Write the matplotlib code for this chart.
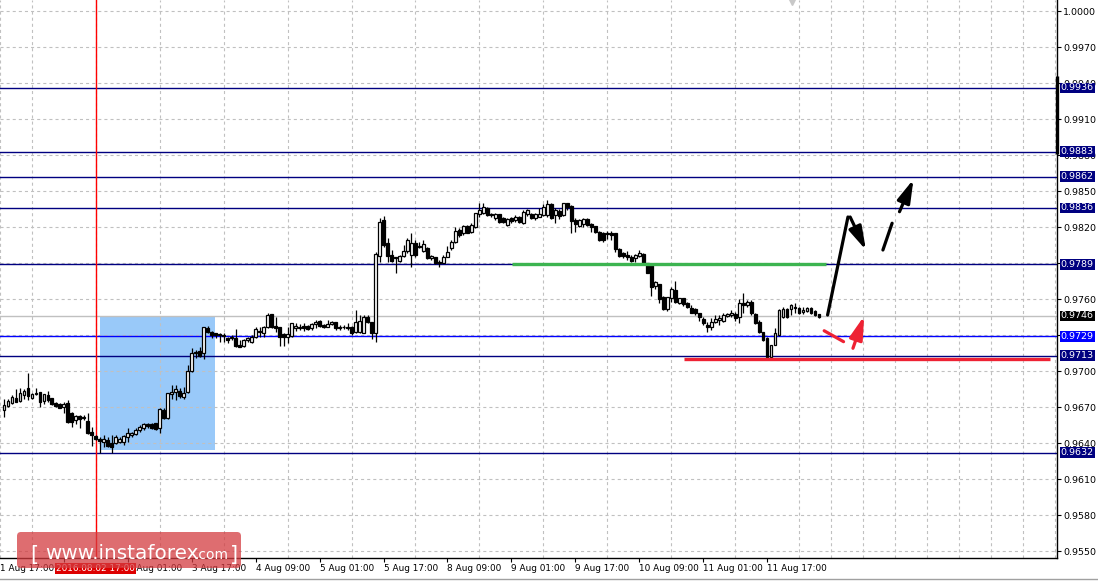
import numpy as np
import matplotlib.pyplot as plt
import matplotlib.transforms as mtransforms
from matplotlib.patches import Rectangle, FancyBboxPatch
from matplotlib.lines import Line2D

plt.rcParams['font.family'] = 'DejaVu Sans'
plt.rcParams['lines.scale_dashes'] = False

## Data: H1 candles (bar 0 = 1 Aug 18:00)
opens = [
    0.96676, 0.96710, 0.96732, 0.96774, 0.96754, 0.96801, 0.96857, 0.96779, 0.96810, 0.96824,
    0.96751, 0.96801, 0.96774, 0.96737, 0.96724, 0.96699, 0.96732, 0.96649, 0.96593, 0.96626,
    0.96607, 0.96585, 0.96496, 0.96462, 0.96432, 0.96412, 0.96426, 0.96399, 0.96399, 0.96407,
    0.96412, 0.96449, 0.96468, 0.96476, 0.96510, 0.96524, 0.96560, 0.96560, 0.96571, 0.96524,
    0.96676, 0.96607, 0.96807, 0.96824, 0.96837, 0.96787, 0.96829, 0.97001, 0.97149, 0.97168,
    0.97149, 0.97357, 0.97326, 0.97315, 0.97310, 0.97301, 0.97274, 0.97279, 0.97279, 0.97218,
    0.97210, 0.97260, 0.97246, 0.97288, 0.97335, 0.97315, 0.97371, 0.97477, 0.97377, 0.97371,
    0.97307, 0.97288, 0.97293, 0.97357, 0.97357, 0.97377, 0.97377, 0.97357, 0.97393, 0.97421,
    0.97385, 0.97371, 0.97393, 0.97410, 0.97371, 0.97365, 0.97368, 0.97371, 0.97324, 0.97329,
    0.97321, 0.97449, 0.97407, 0.97315, 0.97960, 0.98260, 0.98066, 0.97968, 0.97949, 0.97921,
    0.97960, 0.98002, 0.97968, 0.98071, 0.98043, 0.98002, 0.98024, 0.97941, 0.97954, 0.97913,
    0.97904, 0.97954, 0.98024, 0.98074, 0.98177, 0.98149, 0.98210, 0.98163, 0.98199, 0.98307,
    0.98321, 0.98357, 0.98307, 0.98274, 0.98307, 0.98274, 0.98218, 0.98274, 0.98260, 0.98282,
    0.98232, 0.98307, 0.98307, 0.98274, 0.98288, 0.98302, 0.98302, 0.98393, 0.98302, 0.98338,
    0.98302, 0.98399, 0.98377, 0.98260, 0.98213, 0.98227, 0.98266, 0.98224, 0.98210, 0.98163,
    0.98149, 0.98154, 0.98154, 0.98149, 0.98016, 0.97982, 0.97968, 0.97954, 0.97941, 0.97960,
    0.97974, 0.97904, 0.97885, 0.97710, 0.97724, 0.97621, 0.97516, 0.97607, 0.97677, 0.97571,
    0.97607, 0.97571, 0.97529, 0.97521, 0.97482, 0.97435, 0.97388, 0.97366, 0.97413, 0.97427,
    0.97421, 0.97463, 0.97468, 0.97474, 0.97454, 0.97571, 0.97552, 0.97579, 0.97477, 0.97413,
    0.97329, 0.97274, 0.97116, 0.97221, 0.97302, 0.97454, 0.97516, 0.97516, 0.97532, 0.97524,
    0.97496, 0.97504, 0.97524, 0.97502, 0.97474,
]
highs = [
    0.96765, 0.96768, 0.96801, 0.96849, 0.96857, 0.96849, 0.96982, 0.96815, 0.96857, 0.96824,
    0.96810, 0.96837, 0.96779, 0.96746, 0.96732, 0.96746, 0.96760, 0.96657, 0.96635, 0.96635,
    0.96635, 0.96649, 0.96537, 0.96468, 0.96454, 0.96468, 0.96454, 0.96468, 0.96468, 0.96454,
    0.96468, 0.96524, 0.96496, 0.96524, 0.96551, 0.96571, 0.96565, 0.96571, 0.96571, 0.96690,
    0.96690, 0.96821, 0.96885, 0.96885, 0.96857, 0.96871, 0.97051, 0.97190, 0.97176, 0.97204,
    0.97371, 0.97376, 0.97337, 0.97321, 0.97315, 0.97315, 0.97288, 0.97301, 0.97349, 0.97260,
    0.97265, 0.97282, 0.97301, 0.97365, 0.97365, 0.97377, 0.97482, 0.97477, 0.97454, 0.97371,
    0.97315, 0.97371, 0.97404, 0.97404, 0.97393, 0.97399, 0.97385, 0.97399, 0.97427, 0.97427,
    0.97393, 0.97427, 0.97421, 0.97413, 0.97385, 0.97385, 0.97404, 0.97377, 0.97510, 0.97468,
    0.97468, 0.97468, 0.97407, 0.97996, 0.98274, 0.98293, 0.98107, 0.98010, 0.97954, 0.97968,
    0.98052, 0.98107, 0.98149, 0.98093, 0.98079, 0.98093, 0.98038, 0.97968, 0.97954, 0.97927,
    0.97968, 0.98043, 0.98093, 0.98204, 0.98191, 0.98218, 0.98218, 0.98232, 0.98321, 0.98399,
    0.98404, 0.98366, 0.98316, 0.98316, 0.98310, 0.98288, 0.98274, 0.98288, 0.98302, 0.98293,
    0.98343, 0.98349, 0.98316, 0.98316, 0.98357, 0.98393, 0.98427, 0.98399, 0.98357, 0.98349,
    0.98404, 0.98404, 0.98385, 0.98274, 0.98266, 0.98274, 0.98274, 0.98232, 0.98210, 0.98171,
    0.98163, 0.98171, 0.98171, 0.98154, 0.98024, 0.97996, 0.98002, 0.97968, 0.97974, 0.98010,
    0.97982, 0.97904, 0.97885, 0.97752, 0.97724, 0.97627, 0.97621, 0.97699, 0.97752, 0.97613,
    0.97613, 0.97579, 0.97552, 0.97524, 0.97488, 0.97454, 0.97413, 0.97441, 0.97468, 0.97468,
    0.97482, 0.97482, 0.97510, 0.97496, 0.97599, 0.97649, 0.97593, 0.97593, 0.97482, 0.97427,
    0.97329, 0.97282, 0.97221, 0.97357, 0.97516, 0.97532, 0.97524, 0.97560, 0.97566, 0.97532,
    0.97532, 0.97538, 0.97532, 0.97510, 0.97477,
]
lows = [
    0.96621, 0.96704, 0.96726, 0.96743, 0.96746, 0.96765, 0.96760, 0.96771, 0.96801, 0.96704,
    0.96726, 0.96746, 0.96718, 0.96699, 0.96690, 0.96654, 0.96571, 0.96532, 0.96560, 0.96524,
    0.96593, 0.96476, 0.96379, 0.96426, 0.96315, 0.96371, 0.96371, 0.96315, 0.96393, 0.96399,
    0.96385, 0.96412, 0.96454, 0.96468, 0.96496, 0.96510, 0.96524, 0.96515, 0.96510, 0.96482,
    0.96599, 0.96599, 0.96765, 0.96760, 0.96774, 0.96765, 0.96821, 0.96996, 0.97107, 0.97115,
    0.97099, 0.97315, 0.97274, 0.97274, 0.97246, 0.97246, 0.97238, 0.97260, 0.97204, 0.97204,
    0.97204, 0.97246, 0.97232, 0.97274, 0.97282, 0.97282, 0.97357, 0.97357, 0.97329, 0.97210,
    0.97210, 0.97232, 0.97288, 0.97338, 0.97343, 0.97338, 0.97343, 0.97343, 0.97357, 0.97371,
    0.97363, 0.97365, 0.97385, 0.97343, 0.97343, 0.97349, 0.97343, 0.97301, 0.97315, 0.97315,
    0.97315, 0.97399, 0.97265, 0.97246, 0.97913, 0.98038, 0.97913, 0.97913, 0.97821, 0.97913,
    0.97954, 0.97982, 0.97871, 0.97954, 0.98024, 0.97996, 0.97932, 0.97927, 0.97893, 0.97871,
    0.97899, 0.97949, 0.98010, 0.98066, 0.98121, 0.98135, 0.98149, 0.98154, 0.98191, 0.98288,
    0.98310, 0.98293, 0.98288, 0.98260, 0.98232, 0.98232, 0.98210, 0.98232, 0.98246, 0.98232,
    0.98227, 0.98293, 0.98266, 0.98260, 0.98282, 0.98293, 0.98288, 0.98266, 0.98232, 0.98266,
    0.98293, 0.98343, 0.98154, 0.98163, 0.98199, 0.98204, 0.98210, 0.98163, 0.98149, 0.98088,
    0.98079, 0.98099, 0.98093, 0.97996, 0.97954, 0.97941, 0.97927, 0.97913, 0.97913, 0.97954,
    0.97885, 0.97816, 0.97627, 0.97682, 0.97566, 0.97510, 0.97504, 0.97579, 0.97571, 0.97560,
    0.97543, 0.97524, 0.97482, 0.97468, 0.97418, 0.97385, 0.97329, 0.97343, 0.97404, 0.97385,
    0.97413, 0.97454, 0.97454, 0.97421, 0.97404, 0.97482, 0.97532, 0.97468, 0.97393, 0.97316,
    0.97254, 0.97110, 0.97110, 0.97218, 0.97293, 0.97441, 0.97446, 0.97468, 0.97482, 0.97477,
    0.97477, 0.97496, 0.97477, 0.97463, 0.97441,
]
closes = [
    0.96718, 0.96751, 0.96782, 0.96746, 0.96821, 0.96837, 0.96796, 0.96807, 0.96815, 0.96746,
    0.96807, 0.96760, 0.96724, 0.96710, 0.96696, 0.96726, 0.96579, 0.96576, 0.96626, 0.96599,
    0.96621, 0.96482, 0.96468, 0.96432, 0.96421, 0.96432, 0.96379, 0.96371, 0.96454, 0.96435,
    0.96460, 0.96482, 0.96482, 0.96510, 0.96537, 0.96560, 0.96543, 0.96524, 0.96515, 0.96685,
    0.96607, 0.96815, 0.96829, 0.96849, 0.96793, 0.96821, 0.97001, 0.97154, 0.97162, 0.97126,
    0.97365, 0.97329, 0.97301, 0.97301, 0.97301, 0.97293, 0.97260, 0.97288, 0.97213, 0.97204,
    0.97260, 0.97274, 0.97282, 0.97352, 0.97324, 0.97371, 0.97468, 0.97371, 0.97357, 0.97282,
    0.97282, 0.97307, 0.97399, 0.97377, 0.97371, 0.97357, 0.97352, 0.97390, 0.97413, 0.97377,
    0.97365, 0.97393, 0.97413, 0.97363, 0.97357, 0.97371, 0.97363, 0.97315, 0.97407, 0.97421,
    0.97449, 0.97407, 0.97315, 0.97977, 0.98241, 0.98052, 0.97960, 0.97921, 0.97941, 0.97960,
    0.98005, 0.98093, 0.98066, 0.97968, 0.98032, 0.98057, 0.97941, 0.97960, 0.97904, 0.97904,
    0.97954, 0.97996, 0.98074, 0.98171, 0.98135, 0.98210, 0.98154, 0.98218, 0.98316, 0.98343,
    0.98366, 0.98302, 0.98299, 0.98307, 0.98246, 0.98241, 0.98266, 0.98252, 0.98288, 0.98241,
    0.98329, 0.98343, 0.98274, 0.98310, 0.98310, 0.98371, 0.98393, 0.98274, 0.98343, 0.98293,
    0.98399, 0.98371, 0.98254, 0.98224, 0.98260, 0.98266, 0.98218, 0.98204, 0.98163, 0.98093,
    0.98093, 0.98143, 0.98135, 0.98016, 0.97960, 0.97960, 0.97954, 0.97918, 0.97968, 0.97982,
    0.97904, 0.97821, 0.97699, 0.97743, 0.97599, 0.97516, 0.97616, 0.97682, 0.97579, 0.97607,
    0.97560, 0.97532, 0.97488, 0.97482, 0.97454, 0.97399, 0.97366, 0.97413, 0.97435, 0.97441,
    0.97468, 0.97474, 0.97482, 0.97441, 0.97566, 0.97552, 0.97579, 0.97482, 0.97404, 0.97329,
    0.97260, 0.97116, 0.97216, 0.97316, 0.97510, 0.97516, 0.97454, 0.97552, 0.97524, 0.97482,
    0.97510, 0.97524, 0.97482, 0.97468, 0.97454,
]

# bottom time scale ('2 Aug 09:00' sits under the red date box, so it is blank)
time_bars = [-1, 15, 31, 47, 63, 79, 95, 111, 127, 143, 159, 175, 191]
time_labels = ['1 Aug 17:00', '', '3 Aug 01:00', '3 Aug 17:00', '4 Aug 09:00',
               '5 Aug 01:00', '5 Aug 17:00', '8 Aug 09:00', '9 Aug 01:00', '9 Aug 17:00',
               '10 Aug 09:00', '11 Aug 01:00', '11 Aug 17:00']
# right price scale (0.9730 / 0.9790 are covered by level boxes)
price_ticks = [0.9550, 0.9580, 0.9610, 0.9640, 0.9670, 0.9700, 0.9730, 0.9760, 0.9790,
               0.9820, 0.9850, 0.9880, 0.9910, 0.9940, 0.9970, 1.0000]
price_labels = ['0.9550', '0.9580', '0.9610', '0.9640', '0.9670', '0.9700', '', '0.9760', '',
                '0.9820', '0.9850', '0.9880', '0.9910', '0.9940', '0.9970', '1.0000']

navy_levels = [0.9936, 0.9883, 0.9862, 0.9836, 0.9789, 0.9713, 0.9632]
blue_level = 0.9729
bid_level = 0.9746
marker_bar = 23            # 2016.08.02 17:00
box_bars = [24.1, 52.75]
box_prices = [0.96346, 0.97457]
green_bars = [127.1, 205.8]
green_price = 0.9789
red_bars = [170.3, 261.8]
red_price = 0.97105
edge_mark = [0.98810, 0.99460]

# forecast arrows (bar, price)
black_leg = [(206.15, 0.97468), (211.25, 0.98285)]
black_arrow = [(211.8, 0.98285), (215.75, 0.98010)]
black_dash = [(220.0, 0.98010), (222.3, 0.98233)]
black_dash_arrow = [(224.15, 0.98329), (227.65, 0.98599)]
red_leg = [(205.3, 0.97337), (210.15, 0.97246)]
red_arrow = [(212.5, 0.97191), (215.3, 0.97460)]

FS = 6.8

## Figure
fig = plt.figure(figsize=(10.98, 5.83), dpi=100)
ax = fig.add_axes([0, 25 / 583, 1057 / 1098, 558 / 583])
ax.set_xlim(-0.675, 263.575)
ax.set_ylim(0.954433, 1.000933)

grid_kw = dict(color='#c0c0c0', lw=0.8, linestyle=(0, (2.2, 2.2)))
ax.set_xticks(np.arange(-1, 264, 8), minor=True)
ax.grid(which='minor', axis='x', **grid_kw)
ax.set_yticks(price_ticks)
ax.set_yticklabels(price_labels)
ax.grid(which='major', axis='y', **grid_kw)
ax.set_xticks(time_bars[1:])
ax.set_xticklabels(time_labels[1:])
plt.setp(ax.get_xticklabels(), ha='left')
ax.tick_params(axis='x', which='minor', length=0)
ax.tick_params(axis='x', which='major', length=3, width=0.8, pad=1.5, labelsize=6.4)
ax.yaxis.tick_right()
ax.tick_params(axis='y', length=3, width=0.8, pad=1.6, labelsize=FS)
ax.annotate(time_labels[0], xy=(time_bars[0], 0), xycoords=('data', 'axes fraction'),
            xytext=(0, -4.6), textcoords='offset points', ha='left', va='top',
            fontsize=6.4, annotation_clip=False)
for s in ['top', 'left']:
    ax.spines[s].set_visible(False)
for s in ['right', 'bottom']:
    ax.spines[s].set_linewidth(1.0)

# background objects
ax.add_patch(Rectangle((box_bars[0], box_prices[0]), box_bars[1] - box_bars[0],
                       box_prices[1] - box_prices[0], facecolor='#99c9f9',
                       edgecolor='none', zorder=0.5))
for lv in navy_levels:
    ax.axhline(lv, color='#000080', lw=1.0, zorder=2)
ax.axhline(blue_level, color='#0000ff', lw=1.0, zorder=2)
ax.axhline(bid_level, color='#c0c0c0', lw=1.0, zorder=2)
ax.axvline(marker_bar, color='red', lw=1.0, zorder=2)

# candles
o = np.array(opens)
c = np.array(closes)
x = np.arange(len(c))
up = c >= o
ax.vlines(x, lows, highs, color='black', lw=0.9, zorder=3)
ax.bar(x[up], np.abs(c - o)[up], bottom=np.minimum(o, c)[up], width=0.72,
       facecolor='white', edgecolor='black', lw=0.9, zorder=4)
ax.bar(x[~up], np.abs(c - o)[~up], bottom=np.minimum(o, c)[~up], width=0.72,
       facecolor='black', edgecolor='black', lw=0.9, zorder=4)

# support / resistance marks
ax.plot(green_bars, [green_price] * 2, color='#3cb450', lw=2.4, solid_capstyle='butt', zorder=5)
ax.plot(red_bars, [red_price] * 2, color='#ee2233', lw=2.4, solid_capstyle='butt', zorder=5)

def leg(pts, color):
    ax.plot([p[0] for p in pts], [p[1] for p in pts], color=color, lw=2.3,
            solid_capstyle='round', zorder=6)

def arrow(pts, color):
    ax.annotate('', xy=pts[1], xytext=pts[0],
                arrowprops=dict(arrowstyle='-|>,head_length=0.7,head_width=0.2',
                                lw=2.3, color=color, mutation_scale=20,
                                shrinkA=0, shrinkB=0), zorder=6)

leg(black_leg, 'black')
arrow(black_arrow, 'black')
leg(black_dash, 'black')
arrow(black_dash_arrow, 'black')
leg(red_leg, '#ee2233')
arrow(red_arrow, '#ee2233')

# right price scale boxes
trans = mtransforms.blended_transform_factory(ax.transAxes, ax.transData)
ax.plot([1.0, 1.0], edge_mark, transform=trans, color='black', lw=2.4,
        solid_capstyle='butt', clip_on=False, zorder=7)
box_levels = navy_levels + [blue_level, bid_level]
box_colors = ['#000080'] * len(navy_levels) + ['#0000ff', 'black']
for lv, bg in zip(box_levels, box_colors):
    ax.text(1.0035, lv, '%.4f' % lv, transform=trans, ha='left', va='center',
            fontsize=FS, color='white', clip_on=False, zorder=10,
            bbox=dict(boxstyle='square,pad=0.1', facecolor=bg, edgecolor='none'))

# vertical line date label
ax.annotate('2016.08.02 17:00', xy=(marker_bar, 0), xycoords=('data', 'axes fraction'),
            xytext=(0, -4.6), textcoords='offset points', ha='center', va='top',
            fontsize=6.4, color='white', annotation_clip=False, zorder=10,
            bbox=dict(boxstyle='square,pad=0.12', facecolor='#dd0000', edgecolor='none'))

# chart-shift marker
ax.plot([0.749], [0.996], transform=ax.transAxes, marker='v', ms=5,
        color='#c8c8c8', clip_on=False, zorder=7)

# window border at the bottom
fig.add_artist(Line2D([0, 1], [4 / 583, 4 / 583], transform=fig.transFigure,
                      color='#a0a0a0', lw=1.0))

# watermark
px = mtransforms.IdentityTransform()
fig.add_artist(FancyBboxPatch((17, 583 - 568), 224, 36,
                              boxstyle='round,pad=0,rounding_size=4', transform=px,
                              facecolor='#d43c40', alpha=0.75, edgecolor='none'))
fig.text(30, 583 - 561, '[', transform=px, fontsize=15, color='white', va='baseline')
fig.text(45, 583 - 559, 'www.instaforex', transform=px, fontsize=14.4, color='white',
         va='baseline')
fig.text(195, 583 - 559, '.com', transform=px, fontsize=10, color='white', va='baseline')
fig.text(230, 583 - 561, ']', transform=px, fontsize=15, color='white', va='baseline')

fig.savefig('out.png', dpi=100)
